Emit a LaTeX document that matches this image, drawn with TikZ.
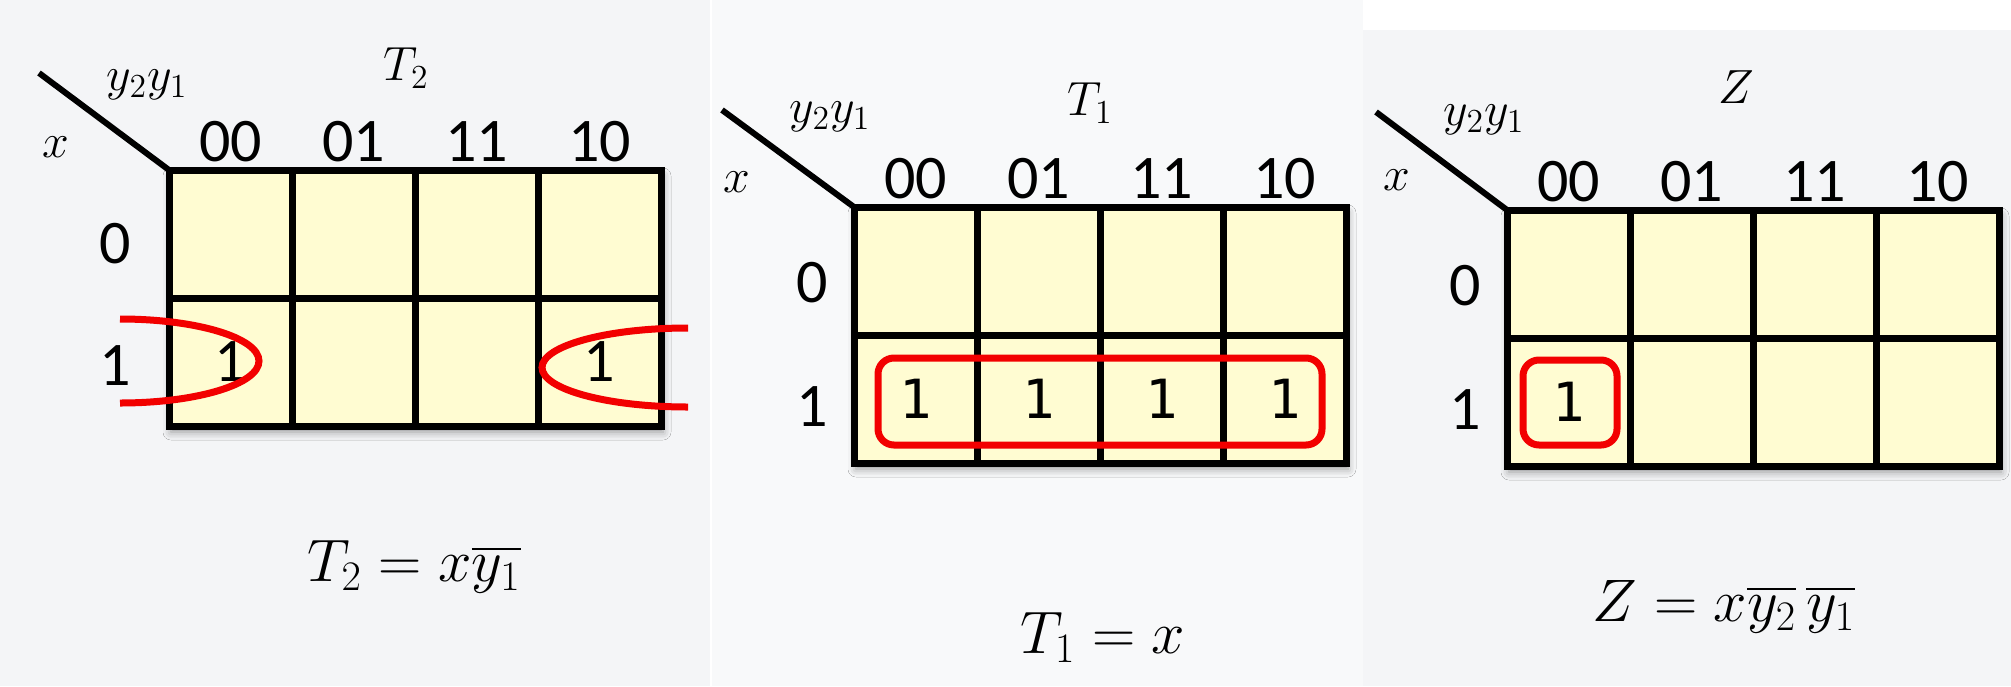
\RequirePackage{fix-cm}
\documentclass[tikz,border=0pt]{standalone}
\usepackage{amsmath}
\usepackage{fontspec}
\setmainfont{Carlito}
\newfontfamily\onefont{DejaVu Sans Mono}
\usetikzlibrary{positioning,shadows.blur}

\definecolor{kcell}{HTML}{FFFCD2}
\definecolor{kred}{HTML}{F20000}
\definecolor{paneA}{HTML}{F4F5F7}
\definecolor{paneB}{HTML}{F8F9FA}

\tikzset{
	cell/.style={draw,line width=3.5pt,fill=kcell,minimum width=61.5pt,minimum height=64pt,inner sep=0pt,outer sep=0pt},
	digit/.style={font=\fontsize{31}{31}\selectfont,inner sep=1pt},
	onedig/.style={font=\onefont\fontsize{27}{27}\selectfont,inner sep=1pt},
	lbl/.style={font=\fontsize{24}{24}\selectfont,inner sep=1pt},
	eqn/.style={font=\fontsize{30}{30}\selectfont,inner sep=1pt},
	grp/.style={draw=kred,line width=3.5pt},
	slash/.style={line width=3pt},
	gridbase/.style={fill=kcell,blur shadow={shadow xshift=1pt,shadow yshift=-3pt,shadow blur radius=4pt}}
}

\begin{document}
\begin{tikzpicture}[x=0.5pt,y=-0.5pt]
		\useasboundingbox (0,0) rectangle (2011,686);
		\fill[white] (0,0) rectangle (2011,686);
		\fill[paneA] (0,0) rectangle (710,686);
		\fill[paneB] (712,0) rectangle (1363,686);
		\fill[paneA] (1363,30) rectangle (2011,686);
		% T2
		\begin{scope}[shift={(169,170)}]
			\fill[gridbase] (0,0) rectangle (492,256);
			\foreach \r in {1,2}
				\foreach \c in {1,...,4}
					\node[cell] (t2-\r\c) at ({(\c-0.5)*123},{(\r-0.5)*128}) {};
		\end{scope}
		\foreach \c/\v in {1/00,2/01,3/11,4/10}
			\node[digit,above=3pt of t2-1\c] (t2-col\c) {\v};
		\node[digit,left=18pt of t2-11,yshift=-5pt] (t2-row0) {0};
		\node[digit,left=18pt of t2-21,yshift=-2pt] (t2-row1) {1};
		\node[digit] (t2-one1) at (t2-21) {1};
		\node[digit] (t2-one2) at (t2-24) {1};
		\coordinate (t2-tip) at (39,73);
		\draw[slash] (t2-tip) -- (t2-11.north west);
		\node[lbl] (t2-yy) at (147,85) {$y_2y_1$};
		\node[lbl] (t2-x) at (56,147) {$x$};
		\node[lbl] (t2-name) at (406,68) {$T_2$};
		\draw[grp] (120,319) arc[start angle=90,end angle=-90,x radius=69.5pt,y radius=21pt];
		\draw[grp] (688,328) arc[start angle=90,end angle=270,x radius=73pt,y radius=19.75pt];
		\node[eqn] (t2-eq) at (414,567) {$T_2 = x\overline{y_1}$};
		% T1
		\begin{scope}[shift={(854,207)}]
			\fill[gridbase] (0,0) rectangle (492,256);
			\foreach \r in {1,2}
				\foreach \c in {1,...,4}
					\node[cell] (t1-\r\c) at ({(\c-0.5)*123},{(\r-0.5)*128}) {};
		\end{scope}
		\foreach \c/\v in {1/00,2/01,3/11,4/10}
			\node[digit,above=3pt of t1-1\c] (t1-col\c) {\v};
		\foreach \c in {1,...,4}
			\node[onedig] (t1-one\c) at (t1-2\c) {1};
		\node[digit,left=12pt of t1-11,yshift=-6pt] (t1-row0) {0};
		\node[digit,left=12pt of t1-21,yshift=-4pt] (t1-row1) {1};
		\coordinate (t1-tip) at (722,110);
		\draw[slash] (t1-tip) -- (t1-11.north west);
		\node[lbl] (t1-yy) at (830,117) {$y_2y_1$};
		\node[lbl] (t1-x) at (737,182) {$x$};
		\node[lbl] (t1-name) at (1090,103) {$T_1$};
		\node[grp,rounded corners=8pt,minimum width=222pt,minimum height=43.5pt] (t1-grp) at (1100,401.5) {};
		\node[eqn] (t1-eq) at (1103,637) {$T_1 = x$};
		% Z
		\begin{scope}[shift={(1507,210)}]
			\fill[gridbase] (0,0) rectangle (492,256);
			\foreach \r in {1,2}
				\foreach \c in {1,...,4}
					\node[cell] (z-\r\c) at ({(\c-0.5)*123},{(\r-0.5)*128}) {};
		\end{scope}
		\foreach \c/\v in {1/00,2/01,3/11,4/10}
			\node[digit,above=3pt of z-1\c] (z-col\c) {\v};
		\node[onedig] (z-one) at (z-21) {1};
		\node[digit,left=12pt of z-11,yshift=-6pt] (z-row0) {0};
		\node[digit,left=12pt of z-21,yshift=-4pt] (z-row1) {1};
		\coordinate (z-tip) at (1376,112);
		\draw[slash] (z-tip) -- (z-11.north west);
		\node[lbl] (z-yy) at (1484,120) {$y_2y_1$};
		\node[lbl] (z-x) at (1397,180) {$x$};
		\node[lbl] (z-name) at (1736,87) {$Z$};
		\node[grp,rounded corners=8pt,minimum width=47pt,minimum height=42.5pt] (z-grp) at (1570,402.5) {};
		\node[eqn] (z-eq) at (1724,607) {$Z = x\overline{y_2}\,\overline{y_1}$};
\end{tikzpicture}
\end{document}
